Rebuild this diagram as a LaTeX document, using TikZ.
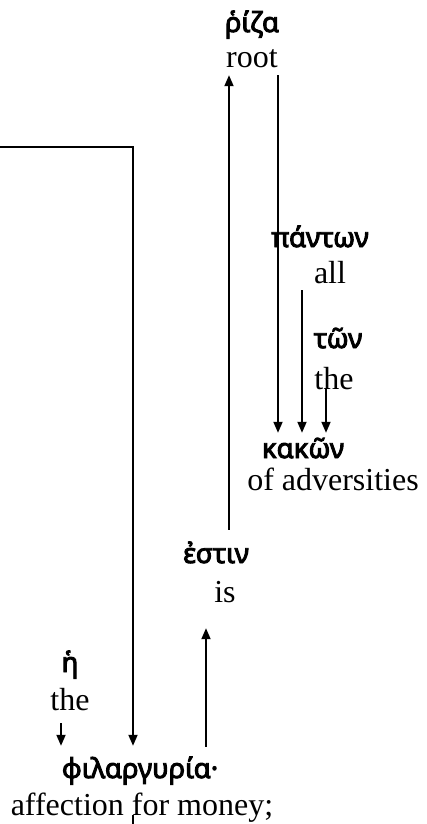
\documentclass[tikz,border=0pt]{standalone}
\usepackage{fontspec}
\setmainfont{Liberation Serif}
\newfontfamily\gkfont{Noto Sans}[FakeBold=3.5]
\usetikzlibrary{arrows.meta}
\begin{document}
\begin{tikzpicture}[x=1pt,y=-1pt,
  gk/.style={font=\gkfont\fontsize{27.5}{32}\selectfont, anchor=base, inner sep=0pt, text height=22pt, text depth=5pt},
  en/.style={font=\fontsize{32}{36}\selectfont, anchor=base, inner sep=0pt, text height=22pt, text depth=7pt},
  ln/.style={line width=1.8pt},
  arr/.style={ln, -{Triangle[length=11pt,width=9pt]}}]
\useasboundingbox (0,0) rectangle (426,824);
% words
\node[gk] (riza) at (252,32) {ῥίζα};
\node[en] (root) at (252,68) {root};
\node[gk] (pantwn) at (320,247) {πάντων};
\node[en] (all) at (330,283) {all};
\node[gk] (twn) at (338,348) {τῶν};
\node[en] (the2) at (334,389) {the};
\node[gk] (kakwn) at (303,458) {κακῶν};
\node[en] (ofadv) at (333,490) {of adversities};
\node[gk] (estin) at (216,563) {ἐστιν};
\node[en] (is) at (225,602) {is};
\node[gk] (eta) at (70,672) {ἡ};
\node[en] (the1) at (70,710) {the};
\node[gk] (phil) at (140,778) {φιλαργυρία·};
\node[en] (affect) at (142,815) {affection for money;};
% columns for connectors
\coordinate (xa) at (229,0);
\coordinate (xb) at (278,0);
\coordinate (xc) at (302,0);
\coordinate (xd) at (326,0);
\coordinate (xe) at (206,0);
\coordinate (xf) at (61,0);
\coordinate (L) at (0,147);
\coordinate (Lc) at (133,147);
\coordinate (B) at (133,824);
% connectors
\draw[arr, shorten <=11pt] (estin.north -| xa) -- (root.south -| xa);
\draw[arr, shorten >=3pt] (root.south -| xb) -- (kakwn.north -| xb);
\draw[arr, shorten >=3pt] (all.south -| xc) -- (kakwn.north -| xc);
\draw[arr, shorten <=-8pt, shorten >=3pt] (the2.south -| xd) -- (kakwn.north -| xd);
\draw[arr, shorten <=9pt, shorten >=19pt] (phil.north -| xe) -- (is.south -| xe);
\draw[arr, shorten >=10pt] (L) -- (Lc) -- (Lc |- phil.north);
\draw[arr, shorten <=6pt, shorten >=10pt] (the1.south -| xf) -- (phil.north -| xf);
\draw[ln] (B) -- (B |- affect.base);
\end{tikzpicture}
\end{document}
